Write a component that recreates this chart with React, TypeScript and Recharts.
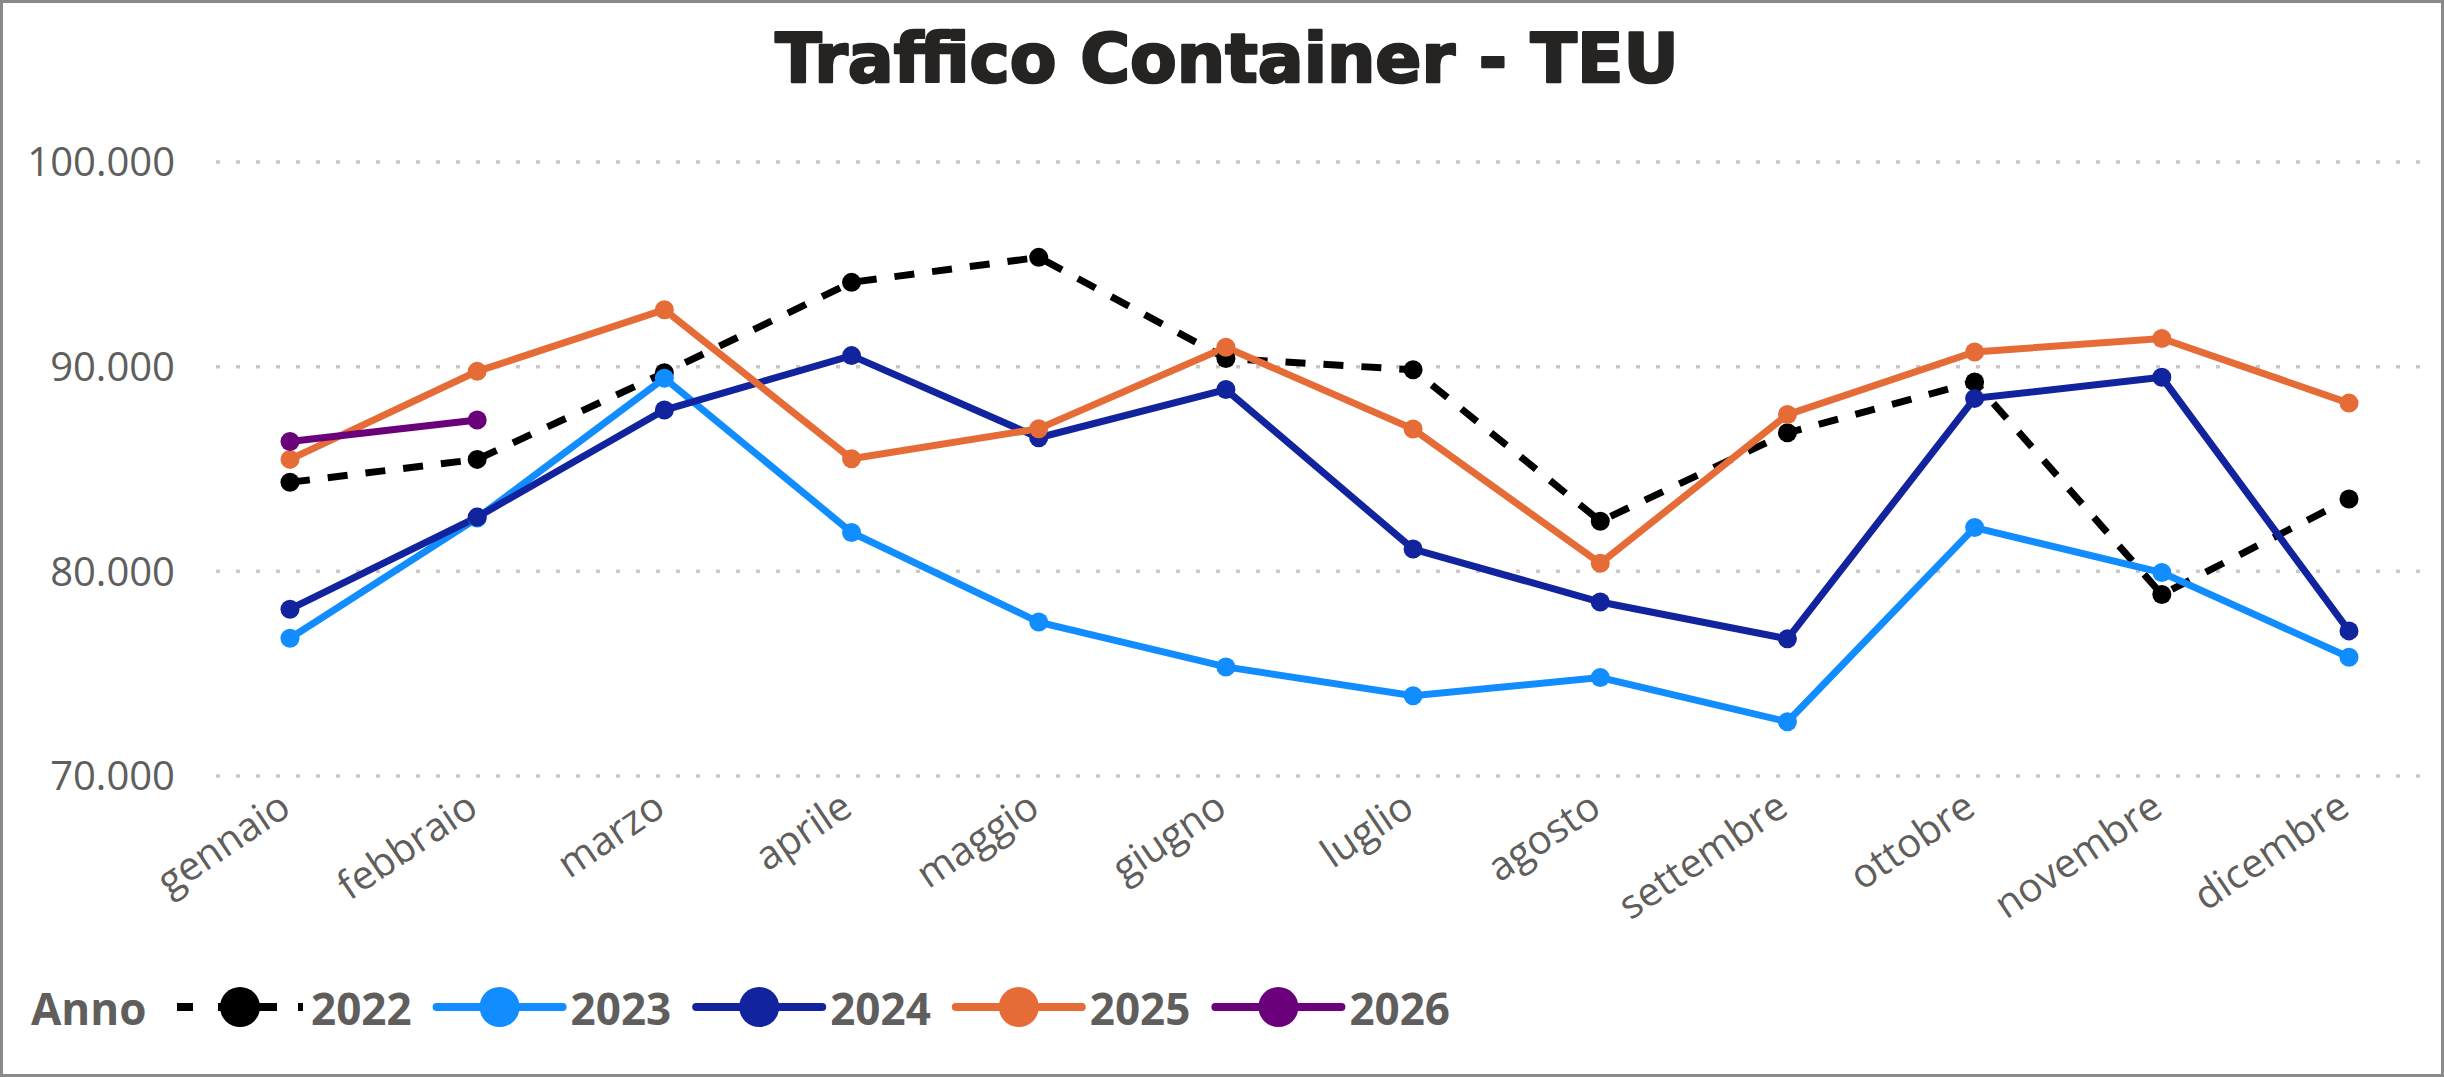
import React from 'react';
import { LineChart, Line, XAxis, YAxis, CartesianGrid } from 'recharts';

const months = ['gennaio', 'febbraio', 'marzo', 'aprile', 'maggio', 'giugno', 'luglio', 'agosto', 'settembre', 'ottobre', 'novembre', 'dicembre'];

const teu2022 = [84350, 85470, 89700, 94120, 95340, 90400, 89850, 82450, 86770, 89250, 78870, 83530];
const teu2023 = [76730, 82600, 89440, 81900, 77520, 75330, 73920, 74810, 72650, 82140, 79940, 75800];
const teu2024 = [78150, 82650, 87880, 90540, 86530, 88880, 81090, 78500, 76700, 88450, 89480, 77090];
const teu2025 = [85470, 89770, 92780, 85500, 86970, 90950, 86950, 80390, 87660, 90720, 91380, 88220];
const teu2026: (number | null)[] = [86340, 87390, null, null, null, null, null, null, null, null, null, null];

const yTicks = [70000, 80000, 90000, 100000];

const title = 'Traffico Container - TEU';
const legendTitle = 'Anno';

const series = [
  { key: '2022', values: teu2022, color: '#000000', dash: '20 18' },
  { key: '2023', values: teu2023, color: '#118DFF', dash: undefined },
  { key: '2024', values: teu2024, color: '#12239E', dash: undefined },
  { key: '2025', values: teu2025, color: '#E66C37', dash: undefined },
  { key: '2026', values: teu2026, color: '#6B007B', dash: undefined },
];

const data = months.map((m, i) => {
  const row: Record<string, any> = { month: m };
  series.forEach((s) => {
    row[s.key] = s.values[i];
  });
  return row;
});

const FONT = '"Segoe UI", "Open Sans", sans-serif';
const TEXT = '#605E5C';

const fmt = (v: number) => String(v).replace(/\B(?=(\d{3})+(?!\d))/g, '.');

const XTick = (props: any) => {
  const { x, y, payload } = props;
  const ax = x + 3;
  const ay = y + 37;
  return (
    <text
      x={ax}
      y={ay}
      textAnchor="end"
      transform={`rotate(-34, ${ax}, ${ay})`}
      fill={TEXT}
      fontSize={40}
      fontFamily={FONT}
    >
      {payload.value}
    </text>
  );
};

const YTick = (props: any) => {
  const { x, y, payload } = props;
  return (
    <text x={x} y={y} dy="0.355em" textAnchor="end" fill={TEXT} fontSize={40} fontFamily={FONT}>
      {fmt(payload.value)}
    </text>
  );
};

export default function App() {
  const legendX0 = 177;
  const legendStep = 259.6;
  const legendY = 1007;
  return (
    <div style={{ position: 'absolute', left: 0, top: 0, width: 2444, height: 1077, background: '#ffffff', overflow: 'hidden' }}>
      <div style={{ position: 'absolute', left: 0, top: 0 }}>
        <LineChart width={2444} height={1077} data={data} margin={{ top: 162, right: 20, bottom: 271, left: 0 }}>
          <CartesianGrid vertical={false} stroke="#c8c8c8" strokeWidth={3.5} strokeDasharray="4 16" />
          <XAxis
            dataKey="month"
            height={30}
            padding={{ left: 74, right: 75 }}
            axisLine={false}
            tickLine={false}
            tickSize={0}
            tickMargin={0}
            interval={0}
            tick={<XTick />}
          />
          <YAxis
            width={216}
            domain={[70000, 100000]}
            ticks={yTicks}
            axisLine={false}
            tickLine={false}
            tickSize={0}
            tickMargin={41}
            tick={<YTick />}
          />
          {series.map((s) => (
            <Line
              key={s.key}
              type="linear"
              dataKey={s.key}
              stroke={s.color}
              strokeWidth={7}
              strokeDasharray={s.dash}
              dot={{ r: 9.5, fill: s.color, stroke: s.color, strokeWidth: 0, strokeDasharray: '' }}
              activeDot={false}
              connectNulls={false}
              isAnimationActive={false}
            />
          ))}
        </LineChart>
      </div>
      <svg width={2444} height={1077} style={{ position: 'absolute', left: 0, top: 0, pointerEvents: 'none' }}>
        <text
          x={1227}
          y={82}
          textAnchor="middle"
          fontFamily='"DejaVu Sans", sans-serif'
          fontWeight={700}
          fontSize={68}
          fill="#252423"
          stroke="#252423"
          strokeWidth={2.5}
          strokeLinejoin="round"
        >
          {title}
        </text>
        <text x={31} y={1025} fontFamily={FONT} fontWeight={700} fontSize={44} fill={TEXT}>
          {legendTitle}
        </text>
        {series.map((s, i) => {
          const x0 = legendX0 + i * legendStep;
          return (
            <g key={s.key}>
              <line
                x1={x0}
                y1={legendY}
                x2={x0 + 126}
                y2={legendY}
                stroke={s.color}
                strokeWidth={8}
                strokeLinecap={s.dash ? 'butt' : 'round'}
                strokeDasharray={s.dash ? '16 25 59 21 5 100' : undefined}
              />
              <circle cx={x0 + 63} cy={legendY} r={20} fill={s.color} />
              <text x={x0 + 134} y={1025} fontFamily={FONT} fontWeight={700} fontSize={44} fill={TEXT}>
                {s.key}
              </text>
            </g>
          );
        })}
      </svg>
      <div
        style={{
          position: 'absolute',
          left: 0,
          top: 0,
          width: 2444,
          height: 1077,
          boxSizing: 'border-box',
          border: '3px solid #8a8a8a',
          pointerEvents: 'none',
        }}
      />
    </div>
  );
}
